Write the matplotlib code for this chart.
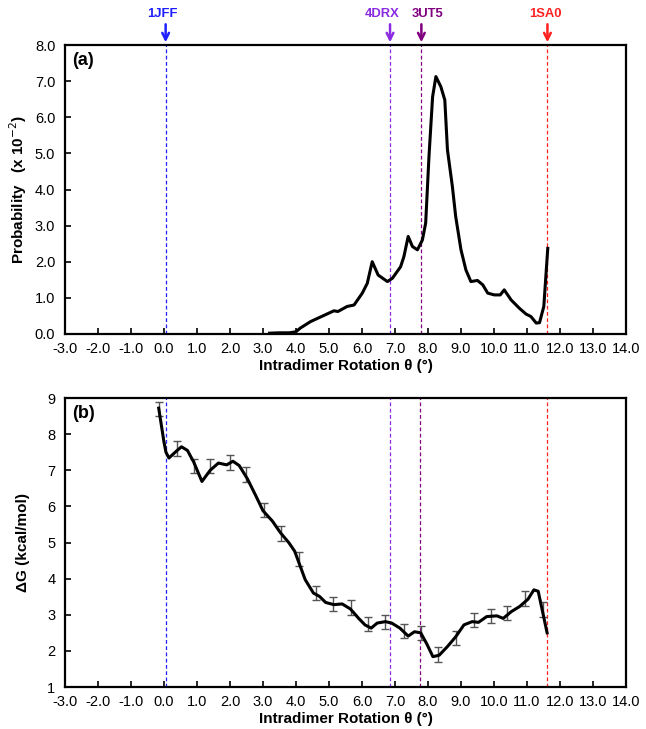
import matplotlib
matplotlib.use("Agg")
import matplotlib.pyplot as plt
import numpy as np

plt.rcParams['font.family'] = ['Liberation Sans', 'DejaVu Sans']

# --- data: panel (a) probability (x 10^-2)
prob_theta = [3.2, 3.5, 3.8, 4.0, 4.13, 4.44, 4.89, 5.15, 5.27, 5.55, 5.76, 6.01, 6.16, 6.31, 6.49,
              6.77, 6.92, 7.17, 7.27, 7.40, 7.53, 7.68, 7.83, 7.93, 8.03, 8.14, 8.24, 8.39, 8.51,
              8.59, 8.74, 8.84, 9.00, 9.15, 9.30, 9.50, 9.66, 9.81, 10.01, 10.19, 10.31, 10.52,
              10.77, 10.97, 11.12, 11.28, 11.38, 11.51, 11.63]
prob_vals = [0.02, 0.03, 0.03, 0.06, 0.16, 0.34, 0.53, 0.64, 0.62, 0.76, 0.80, 1.13, 1.40, 2.00, 1.63,
             1.45, 1.54, 1.86, 2.14, 2.70, 2.42, 2.33, 2.60, 3.07, 4.91, 6.57, 7.13, 6.85, 6.48,
             5.10, 4.08, 3.25, 2.33, 1.77, 1.45, 1.48, 1.36, 1.13, 1.08, 1.08, 1.22, 0.94,
             0.71, 0.55, 0.48, 0.30, 0.31, 0.76, 2.37]

# --- data: panel (b) free energy (kcal/mol)
dg_theta = [-0.16, 0.0, 0.06, 0.15, 0.4, 0.53, 0.71, 0.9, 1.15, 1.4, 1.65, 1.9, 2.09, 2.28, 2.53,
            2.78, 3.0, 3.28, 3.53, 3.78, 3.96, 4.09, 4.28, 4.53, 4.71, 4.9, 5.15, 5.4, 5.65, 5.9,
            6.09, 6.28, 6.46, 6.71, 6.9, 7.15, 7.4, 7.59, 7.78, 7.96, 8.15, 8.34, 8.59, 8.84,
            9.09, 9.34, 9.53, 9.78, 10.09, 10.28, 10.53, 10.78, 11.03, 11.21, 11.34, 11.46, 11.61]
dg_vals = [8.72, 7.78, 7.5, 7.34, 7.55, 7.65, 7.55, 7.23, 6.69, 7.0, 7.2, 7.15, 7.25, 7.13, 6.76,
           6.3, 5.88, 5.6, 5.27, 5.0, 4.76, 4.44, 3.97, 3.6, 3.51, 3.34, 3.28, 3.3, 3.16, 2.9,
           2.72, 2.63, 2.77, 2.81, 2.77, 2.63, 2.41, 2.53, 2.5, 2.2, 1.84, 1.88, 2.12, 2.39,
           2.72, 2.81, 2.79, 2.95, 2.97, 2.9, 3.09, 3.23, 3.43, 3.69, 3.65, 3.14, 2.5]

err_theta = [-0.16, 0.4, 0.9, 1.4, 1.99, 2.5, 3.03, 3.56, 4.08, 4.6, 5.13, 5.66, 6.19, 6.71, 7.28,
             7.78, 8.31, 8.84, 9.38, 9.9, 10.4, 10.94, 11.5]
err_mean = [8.7, 7.6, 7.12, 7.12, 7.22, 6.88, 5.9, 5.25, 4.55, 3.6, 3.3, 3.2, 2.75, 2.8, 2.55,
            2.5, 1.9, 2.35, 2.85, 2.97, 3.05, 3.45, 3.15]
err_half = [0.2] * len(err_theta)

# reference structures
ref_names = ['1JFF', '4DRX', '3UT5', '1SA0']
ref_theta_a = [0.05, 6.85, 7.8, 11.62]
ref_theta_b = [0.05, 6.85, 7.75, 11.6]
ref_label_theta = [-0.05, 6.6, 7.99, 11.55]
ref_colors = ['#1f1fff', '#8a2be2', '#800080', '#ff2020']

x_ticks = np.arange(-3, 14.01, 1.0)

fig = plt.figure(figsize=(6.46, 7.29), dpi=100)
ax1 = fig.add_axes([0.1006, 0.542, 0.8684, 0.396])
ax2 = fig.add_axes([0.1006, 0.0576, 0.8684, 0.3964])

for ax in (ax1, ax2):
    ax.set_xlim(-3, 14)
    ax.set_xticks(x_ticks)
    ax.set_xticklabels([f'{v:.1f}' for v in x_ticks], fontsize=10.5)
    for s in ax.spines.values():
        s.set_linewidth(1.6)
    ax.tick_params(direction='in', length=4, width=1.2, labelsize=10.5)
    ax.tick_params(axis='x', pad=6)
    ax.tick_params(axis='y', pad=7)
    ax.set_xlabel('Intradimer Rotation θ (°)', fontsize=11, fontweight='bold', labelpad=2)

# panel a
ax1.set_ylim(0, 8)
ax1.set_yticks(np.arange(0, 8.01, 1.0))
ax1.set_yticklabels([f'{v:.1f}' for v in np.arange(0, 8.01, 1.0)])
for t, c in zip(ref_theta_a, ref_colors):
    ax1.axvline(t, color=c, ls='--', lw=0.9, dashes=(3, 2))
ax1.plot(prob_theta, prob_vals, color='black', lw=2.2)
ax1.set_ylabel('Probability   (x 10$^{-2}$)', fontsize=11, fontweight='bold', labelpad=4)
ax1.text(0.012, 0.975, '(a)', transform=ax1.transAxes, fontsize=13, fontweight='bold', va='top', ha='left')
for n, t, tl, c in zip(ref_names, ref_theta_a, ref_label_theta, ref_colors):
    ax1.annotate('', xy=(t, 8.08), xytext=(t, 8.58), annotation_clip=False,
                 arrowprops=dict(arrowstyle='->', color=c, lw=1.8, mutation_scale=12,
                                 shrinkA=0, shrinkB=0))
    ax1.text(tl, 8.86, n, color=c, fontsize=9.4, fontweight='bold', ha='center', va='center', clip_on=False)

# panel b
ax2.set_ylim(1, 9)
ax2.set_yticks(np.arange(1, 9.01, 1))
for t, c in zip(ref_theta_b, ref_colors):
    ax2.axvline(t, color=c, ls='--', lw=0.9, dashes=(3, 2))
ax2.errorbar(err_theta, err_mean, yerr=err_half, fmt='none', ecolor='#555555', elinewidth=1, capsize=3, capthick=1)
ax2.plot(dg_theta, dg_vals, color='black', lw=2.2)
ax2.set_ylabel('ΔG (kcal/mol)', fontsize=11, fontweight='bold', labelpad=12)
ax2.text(0.012, 0.975, '(b)', transform=ax2.transAxes, fontsize=13, fontweight='bold', va='top', ha='left')

fig.savefig('out.png', dpi=100)
